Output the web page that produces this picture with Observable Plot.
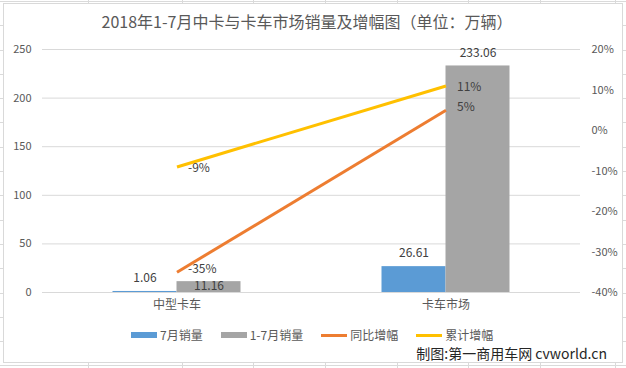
<!DOCTYPE html>
<html>
<head>
<meta charset="utf-8">
<script src="https://cdn.jsdelivr.net/npm/d3@7"></script>
<script src="https://cdn.jsdelivr.net/npm/@observablehq/plot@0.6"></script>
<style>
  html, body { margin: 0; padding: 0; background: #fff; }
  #page {
    position: relative; width: 626px; height: 368px; overflow: hidden;
    font-family: "Noto Sans CJK SC", "Noto Sans", sans-serif;
    background-color: #fff;
    background-image:
      repeating-linear-gradient(to bottom, transparent 0 1px, #dadada 1px 2px, transparent 2px 24.3px),
      linear-gradient(#dadada, #dadada), linear-gradient(#dadada, #dadada),
      linear-gradient(#dadada, #dadada), linear-gradient(#dadada, #dadada),
      linear-gradient(#dadada, #dadada), linear-gradient(#dadada, #dadada),
      linear-gradient(#dadada, #dadada), linear-gradient(#dadada, #dadada);
    background-size: 100% 100%, 1px 100%, 1px 100%, 1px 100%, 1px 100%, 1px 100%, 1px 100%, 1px 100%, 1px 100%;
    background-position: 0 0, 88px 0, 182px 0, 253px 0, 325px 0, 397px 0, 468px 0, 540px 0, 615px 0;
    background-repeat: no-repeat;
  }
  #box {
    position: absolute; left: 3px; top: 3px; width: 618px; height: 358px;
    background: #fff; border: 1px solid #d9d9d9;
  }
  #title {
    position: absolute; left: -6px; top: 10px; width: 626px; text-align: center;
    font-size: 16px; color: #595959; line-height: 22px; white-space: nowrap;
  }
  #chart { position: absolute; left: 0; top: 40px; }
  #legend {
    position: absolute; left: 131px; top: 326px; display: flex; gap: 18px;
    font-size: 12px; color: #595959; line-height: 18px; white-space: nowrap;
  }
  #legend .item { display: flex; align-items: center; gap: 3px; }
  #legend .sw { display: inline-block; width: 26px; }
  #caption {
    position: absolute; right: 19px; top: 343px; font-size: 14px; color: #262626;
    line-height: 20px; white-space: nowrap;
  }
</style>
</head>
<body>
<div id="page">
  <div id="box"></div>
  <div id="title">2018年1-7月中卡与卡车市场销量及增幅图（单位：万辆）</div>
  <div id="chart"></div>
  <div id="legend"></div>
  <div id="caption">制图:第一商用车网 cvworld.cn</div>
</div>
<script>
// ---- data ----
const categories = ["中型卡车", "卡车市场"];
const julySales = [1.06, 26.61];        // 7月销量
const ytdSales = [11.16, 233.06];       // 1-7月销量
const yoyGrowth = [-35, 5];             // 同比增幅 (%)
const cumGrowth = [-9, 11];             // 累计增幅 (%)
const leftTicks = [0, 50, 100, 150, 200, 250];
const rightTicks = [-40, -30, -20, -10, 0, 10, 20];
const seriesNames = ["7月销量", "1-7月销量", "同比增幅", "累计增幅"];

// ---- build ----
const colors = ["#5b9bd5", "#a5a5a5", "#ed7d31", "#ffc000"];
const rows = categories.map((c, i) => ({
  cat: c, july: julySales[i], ytd: ytdSales[i], yoy: yoyGrowth[i], cum: cumGrowth[i]
}));
const yMax = 250, pMin = -40, pMax = 20;
const yPct = p => (p - pMin) / (pMax - pMin) * yMax;

const width = 626, height = 280;
const mL = 42, mR = 46;
const band = (width - mL - mR) / categories.length;
const barW = 64;
const outerInset = band / 2 - barW;
const innerInset = band / 2;
const txt = "#404040";

const chart = Plot.plot({
  width, height,
  marginTop: 9, marginBottom: 28, marginLeft: mL, marginRight: mR,
  style: { fontFamily: '"Noto Sans CJK SC", "Noto Sans", sans-serif', fontSize: "11px", background: "transparent", overflow: "visible" },
  x: { domain: categories, padding: 0, axis: null },
  y: { domain: [0, yMax], axis: null },
  marks: [
    Plot.ruleY(leftTicks, { y: d => d, stroke: "#d9d9d9", strokeWidth: 1 }),
    Plot.text(leftTicks, { y: d => d, text: d => String(d), frameAnchor: "left", dx: -11, textAnchor: "end", fill: "#595959", fontSize: 11 }),
    Plot.text(rightTicks, { y: d => yPct(d), text: d => d + "%", frameAnchor: "right", dx: 11, textAnchor: "start", fill: "#595959", fontSize: 11 }),
    Plot.text(categories, { x: d => d, text: d => d, frameAnchor: "bottom", dy: 16, fill: "#595959", fontSize: 12 }),
    Plot.barY(rows, { x: "cat", y: "july", fill: colors[0], insetLeft: outerInset, insetRight: innerInset }),
    Plot.barY(rows, { x: "cat", y: "ytd", fill: colors[1], insetLeft: innerInset, insetRight: outerInset }),
    Plot.line(rows, { x: "cat", y: d => yPct(d.yoy), stroke: colors[2], strokeWidth: 3, strokeLinecap: "butt" }),
    Plot.line(rows, { x: "cat", y: d => yPct(d.cum), stroke: colors[3], strokeWidth: 3, strokeLinecap: "butt" }),
    Plot.text(rows, { x: "cat", y: "july", text: d => d.july.toFixed(2), dx: -barW / 2, dy: -13, fill: txt, fontSize: 12 }),
    Plot.text(rows.filter(d => d.ytd > 50), { x: "cat", y: "ytd", text: d => d.ytd.toFixed(2), dx: barW / 2, dy: -13, fill: txt, fontSize: 12 }),
    Plot.text(rows.filter(d => d.ytd <= 50), { x: "cat", y: "ytd", text: d => d.ytd.toFixed(2), dx: barW / 2, dy: 5, fill: txt, fontSize: 12 }),
    Plot.text(rows, { x: "cat", y: d => yPct(d.yoy), text: d => d.yoy + "%", dx: 11, dy: -3, textAnchor: "start", fill: txt, fontSize: 12 }),
    Plot.text(rows, { x: "cat", y: d => yPct(d.cum), text: d => d.cum + "%", dx: 11, dy: 1, textAnchor: "start", fill: txt, fontSize: 12 })
  ]
});
document.getElementById("chart").appendChild(chart);

// ---- legend ----
const legend = document.getElementById("legend");
seriesNames.forEach((name, i) => {
  const item = document.createElement("span");
  item.className = "item";
  const sw = document.createElement("span");
  sw.className = "sw";
  sw.style.background = colors[i];
  sw.style.height = i < 2 ? "6px" : "3px";
  const t = document.createElement("span");
  t.textContent = name;
  item.appendChild(sw);
  item.appendChild(t);
  legend.appendChild(item);
});
</script>
</body>
</html>
